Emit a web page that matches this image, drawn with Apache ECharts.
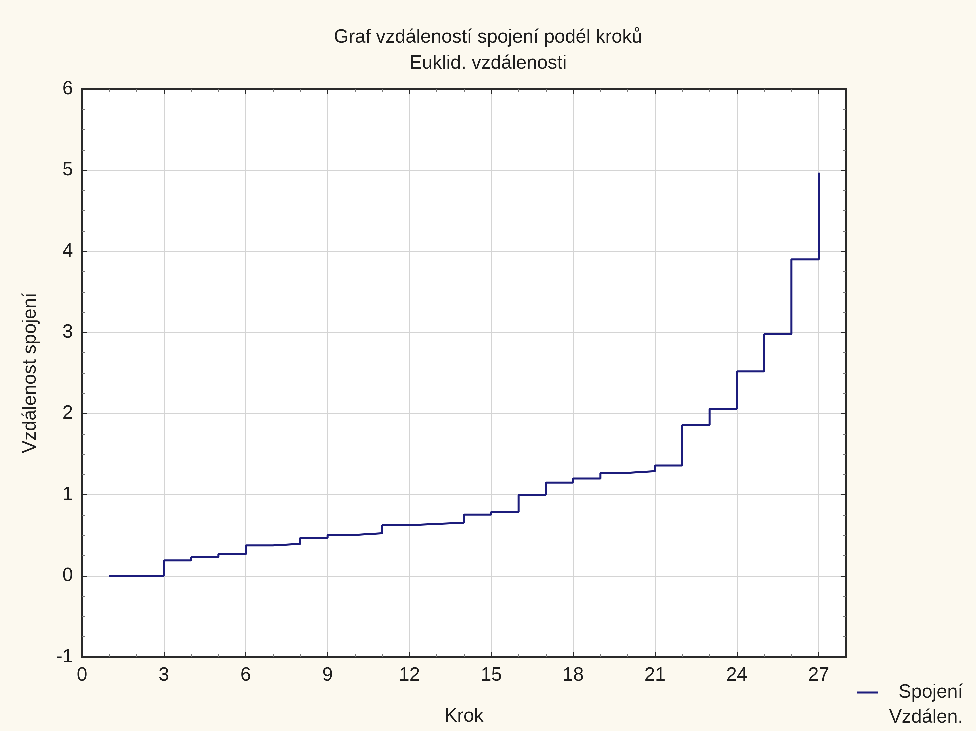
<!DOCTYPE html>
<html>
<head>
<meta charset="utf-8">
<script src="https://cdn.jsdelivr.net/npm/echarts@6/dist/echarts.min.js"></script>
<style>
  html, body { margin: 0; padding: 0; background: #fcf9ef; }
  #chart { width: 976px; height: 731px; }
</style>
</head>
<body>
<div id="chart"></div>
<script>
  // kroky a vzdálenosti spojení
  var steps = [1, 2, 3, 4, 5, 6, 7, 8, 9, 10, 11, 12, 13, 14, 15, 16, 17, 18, 19, 20, 21, 22, 23, 24, 25, 26, 27];
  var distances = [0, 0, 0.19, 0.23, 0.265, 0.375, 0.395, 0.47, 0.505, 0.525, 0.625, 0.64, 0.655, 0.755, 0.79,
    1.0, 1.15, 1.2, 1.27, 1.29, 1.36, 1.86, 2.06, 2.52, 2.98, 3.9, 4.97];
  var seriesName = 'Spojení Vzdálen.';

  var font = 'Liberation Sans, Arial, sans-serif';
  var frameColor = '#2a2a2a';
  var textColor = '#1e1e1e';

  var data = [];
  for (var i = 0; i < steps.length; i++) {
    data.push([steps[i], distances[i]]);
  }

  // osy bez popisků (horní a pravá) - jen rámeček a čárky
  var plainAxis = {
    axisLine: { show: true, onZero: false, lineStyle: { color: frameColor, width: 2 } },
    axisTick: { show: true, inside: true, length: 5, lineStyle: { color: frameColor } },
    axisLabel: { show: false },
    splitLine: { show: false }
  };

  // vyšší devicePixelRatio, jinak zrender zahodí malé svislé skoky a schody se zkosí
  var myChart = echarts.init(document.getElementById('chart'), null, { devicePixelRatio: 3 });
  var option = {
    backgroundColor: '#fcf9ef',
    animation: false,
    title: {
      text: 'Graf vzdáleností spojení podél kroků',
      subtext: 'Euklid. vzdálenosti',
      left: 'center',
      top: 23,
      itemGap: 7,
      textStyle: { fontFamily: font, fontSize: 19, fontWeight: 'normal', color: textColor },
      subtextStyle: { fontFamily: font, fontSize: 19, color: textColor }
    },
    grid: {
      left: 82,
      right: 130,
      top: 89,
      bottom: 71,
      show: true,
      backgroundColor: '#ffffff',
      borderWidth: 0
    },
    legend: {
      left: 857,
      top: 683,
      padding: 0,
      itemWidth: 21,
      itemHeight: 2,
      itemGap: 4,
      icon: 'rect',
      formatter: function () { return '{a|Spojení}\n{a|Vzdálen.}'; },
      textStyle: {
        fontFamily: font, fontSize: 19, color: textColor,
        padding: [25, 0, 0, 0],
        rich: {
          a: { fontFamily: font, fontSize: 19, color: textColor, width: 80, align: 'right', lineHeight: 25 }
        }
      },
      data: [seriesName]
    },
    xAxis: [
      {
        type: 'value',
        position: 'bottom',
        min: 0,
        max: 28,
        interval: 3,
        name: 'Krok',
        nameLocation: 'middle',
        nameGap: 50,
        nameTextStyle: { fontFamily: font, fontSize: 19, color: textColor },
        axisLine: { show: true, onZero: false, lineStyle: { color: frameColor, width: 2 } },
        axisTick: { show: true, inside: true, length: 5, lineStyle: { color: frameColor } },
        minorTick: { show: true, splitNumber: 3, length: 3, lineStyle: { color: '#777777' } },
        axisLabel: {
          fontFamily: font, fontSize: 19, color: textColor, margin: 9,
          showMaxLabel: false
        },
        splitLine: { show: true, lineStyle: { color: '#d4d4d4', width: 1 } }
      },
      Object.assign({}, plainAxis, {
        type: 'value',
        position: 'top',
        min: 0,
        max: 28,
        interval: 3,
        minorTick: { show: true, splitNumber: 3, length: 3, lineStyle: { color: '#777777' } }
      })
    ],
    yAxis: [
      {
        type: 'value',
        position: 'left',
        min: -1,
        max: 6,
        interval: 1,
        name: 'Vzdálenost spojení',
        nameLocation: 'middle',
        nameGap: 42,
        nameTextStyle: { fontFamily: font, fontSize: 19, color: textColor },
        axisLine: { show: true, onZero: false, lineStyle: { color: frameColor, width: 2 } },
        axisTick: { show: true, inside: true, length: 5, lineStyle: { color: frameColor } },
        minorTick: { show: true, splitNumber: 4, length: 3, lineStyle: { color: '#777777' } },
        axisLabel: { fontFamily: font, fontSize: 19, color: textColor, margin: 9 },
        splitLine: { show: true, lineStyle: { color: '#d4d4d4', width: 1 } }
      },
      Object.assign({}, plainAxis, {
        type: 'value',
        position: 'right',
        min: -1,
        max: 6,
        interval: 1,
        minorTick: { show: true, splitNumber: 4, length: 3, lineStyle: { color: '#777777' } }
      })
    ],
    series: [
      {
        name: seriesName,
        type: 'line',
        step: 'end',
        showSymbol: false,
        symbol: 'none',
        data: data,
        itemStyle: { color: '#1c1c7c' },
        lineStyle: { color: '#1c1c7c', width: 2 }
      }
    ]
  };

  myChart.setOption(option);
</script>
</body>
</html>
